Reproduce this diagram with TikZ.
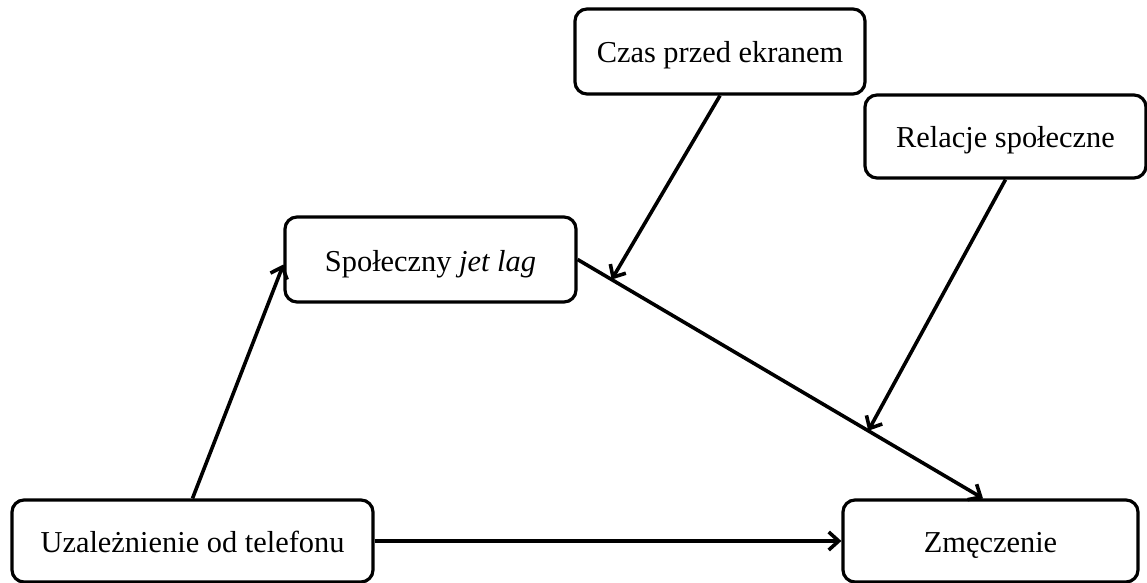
\documentclass[tikz,border=0pt]{standalone}
\usepackage{fontspec}
\setmainfont{Liberation Serif}
\usetikzlibrary{arrows.meta}
\begin{document}
\begin{tikzpicture}[x=0.5pt,y=-0.5pt,
  box/.style={draw=black, line width=1.6pt, rounded corners=6pt, fill=white,
    font=\fontsize{15.2}{18}\selectfont, inner sep=0pt, text height=12.5pt, text depth=1pt},
  arr/.style={line width=1.8pt, -{Straight Barb[length=5pt,width=9pt,line width=1.8pt]}}]
\useasboundingbox (0,0) rectangle (1147,583);
\node[box, minimum width=145pt, minimum height=42.5pt] (czas) at (720,51.5) {Czas przed ekranem};
\node[box, minimum width=140.5pt, minimum height=41.5pt] (rel) at (1005.5,136.5) {Relacje społeczne};
\node[box, minimum width=145.5pt, minimum height=42.5pt] (spol) at (430.5,259.5) {Społeczny \textit{jet lag}};
\node[box, minimum width=180.5pt, minimum height=41pt] (uzal) at (192.5,541) {Uzależnienie od telefonu};
\node[box, minimum width=147.5pt, minimum height=41pt] (zm) at (990.5,541) {Zmęczenie};
\draw[arr] (uzal.north) -- ([yshift=-2.5pt]spol.west);
\draw[arr] (uzal.east) -- (zm.west);
\draw[arr] (spol.east) -- ([xshift=-3.75pt]zm.north)
  coordinate[pos=0.084] (m1) coordinate[pos=0.717] (m2);
\draw[arr] (czas.south) -- (m1);
\draw[arr] (rel.south) -- (m2);
\end{tikzpicture}
\end{document}
